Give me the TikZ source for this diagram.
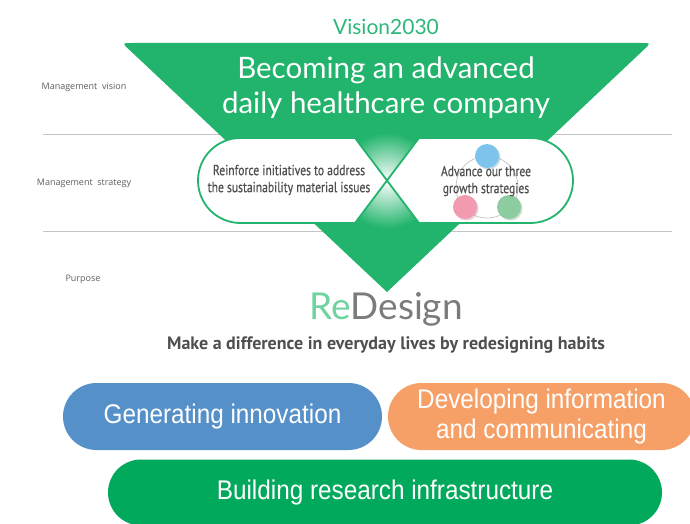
\documentclass[tikz,border=0pt]{standalone}
\usepackage{fontspec}
\setmainfont{Lato}
\newfontfamily\ptsans{PT Sans}
\newfontfamily\ptnarrow[FakeStretch=0.8, FakeBold=0.4]{PT Sans}
\newfontfamily\narrowsans[FakeStretch=0.9]{Liberation Sans}
\newfontfamily\opensans{Open Sans}
\usetikzlibrary{shapes.misc}
\definecolor{tri}{HTML}{22B46C}
\definecolor{visiongreen}{HTML}{2DB87A}
\definecolor{regreen}{HTML}{6FD3A0}
\definecolor{labgray}{HTML}{5F5F5F}
\definecolor{txtgray}{HTML}{4F4F4F}
\definecolor{rulegray}{HTML}{C4C4C4}
\definecolor{innoblue}{HTML}{5690C9}
\definecolor{infoorange}{HTML}{F6A068}
\definecolor{resgreen}{HTML}{00A95C}
\definecolor{bubbleblue}{HTML}{7DC4EC}
\definecolor{bubblepink}{HTML}{F29AB0}
\definecolor{bubblegreen}{HTML}{8DCC9E}
\tikzset{
  lbl/.style={font=\opensans\fontsize{9}{11}\selectfont, text=labgray},
  pill/.style={draw=tri, line width=1.8pt, fill=white},
  pilltext/.style={font=\ptnarrow\fontsize{14.5}{17}\selectfont, text=txtgray, align=center},
  bar/.style={rounded rectangle, minimum height=67pt, inner sep=0pt, text=white, align=center,
    font=\narrowsans\fontsize{27}{30}\selectfont},
}
\begin{document}
\begin{tikzpicture}[x=1pt,y=-1pt]
	\clip (0,0) rectangle (690,524);
	\fill[white] (0,0) rectangle (690,524);
	% level rules and their labels
	\draw[rulegray, thin] (43,134) -- (672,134);
	\draw[rulegray, thin] (43,231) -- (672,231);
	\node[lbl] (lvision) at (84,87) {Management\ \ vision};
	\node[lbl] (lstrategy) at (84,183) {Management\ \ strategy};
	\node[lbl] (lpurpose) at (83,279) {Purpose};
	% vision triangle
	\node[font=\fontsize{21}{23}\selectfont, text=visiongreen] (vision) at (386,27) {Vision2030};
	\fill[tri] (387,292) -- (129.3,49.8) .. controls (122,43) .. (132,43) -- (641,43)
		.. controls (651,43) .. (643.7,49.8) -- cycle;
	\begin{scope}
		\clip (387,292) -- (122,43) -- (651,43) -- cycle;
		\shade[inner color=white, outer color=tri] (387,180.5) circle[radius=48pt];
	\end{scope}
	\node[font=\fontsize{29.5}{35}\selectfont, text=white, align=center] (goal) at (386,88)
		{Becoming an advanced\\daily healthcare company};
	% the two strategies
	\filldraw[pill] (387,180.5) -- (355,138) -- (240.5,138) .. controls (217,138) and (198,157) .. (198,180.5)
		.. controls (198,204) and (217,223) .. (240.5,223) -- (355,223) -- cycle;
	\filldraw[pill] (387,180.5) -- (419,138) -- (530.5,138) .. controls (554,138) and (573,157) .. (573,180.5)
		.. controls (573,204) and (554,223) .. (530.5,223) -- (419,223) -- cycle;
	\draw[rulegray, line width=0.7pt] (487,187) circle[radius=31pt];
	\foreach \cx/\cy/\col in {487/156/bubbleblue, 465/207/bubblepink, 509/207/bubblegreen} {
		\fill[\col!80!black, opacity=0.35] (\cx+1.5,\cy+1.5) circle[radius=12pt];
		\fill[\col] (\cx,\cy) circle[radius=12pt];
	}
	\node[pilltext] (sustain) at (289,180) {Reinforce initiatives to address\\the sustainability material issues};
	\node[pilltext] (growth) at (486,181) {Advance our three\\growth strategies};
	% purpose
	\node[font=\fontsize{37}{39}\selectfont] (redesign) at (386,309) {\textcolor{regreen}{Re}\textcolor{txtgray!75}{Design}};
	\node[font=\ptsans\bfseries\fontsize{18}{20}\selectfont, text=txtgray] (purpose) at (386,345)
		{Make a difference in everyday lives by redesigning habits};
	% activities
	\node[bar, fill=innoblue, minimum width=319pt] (innov) at (222.5,416.5) {Generating innovation};
	\node[bar, fill=infoorange, minimum width=307pt] (info) at (541.5,416.5) {Developing information\\and communicating};
	\node[bar, fill=resgreen, minimum width=554pt, minimum height=66pt] (research) at (385,492.5) {Building research infrastructure};
\end{tikzpicture}
\end{document}
